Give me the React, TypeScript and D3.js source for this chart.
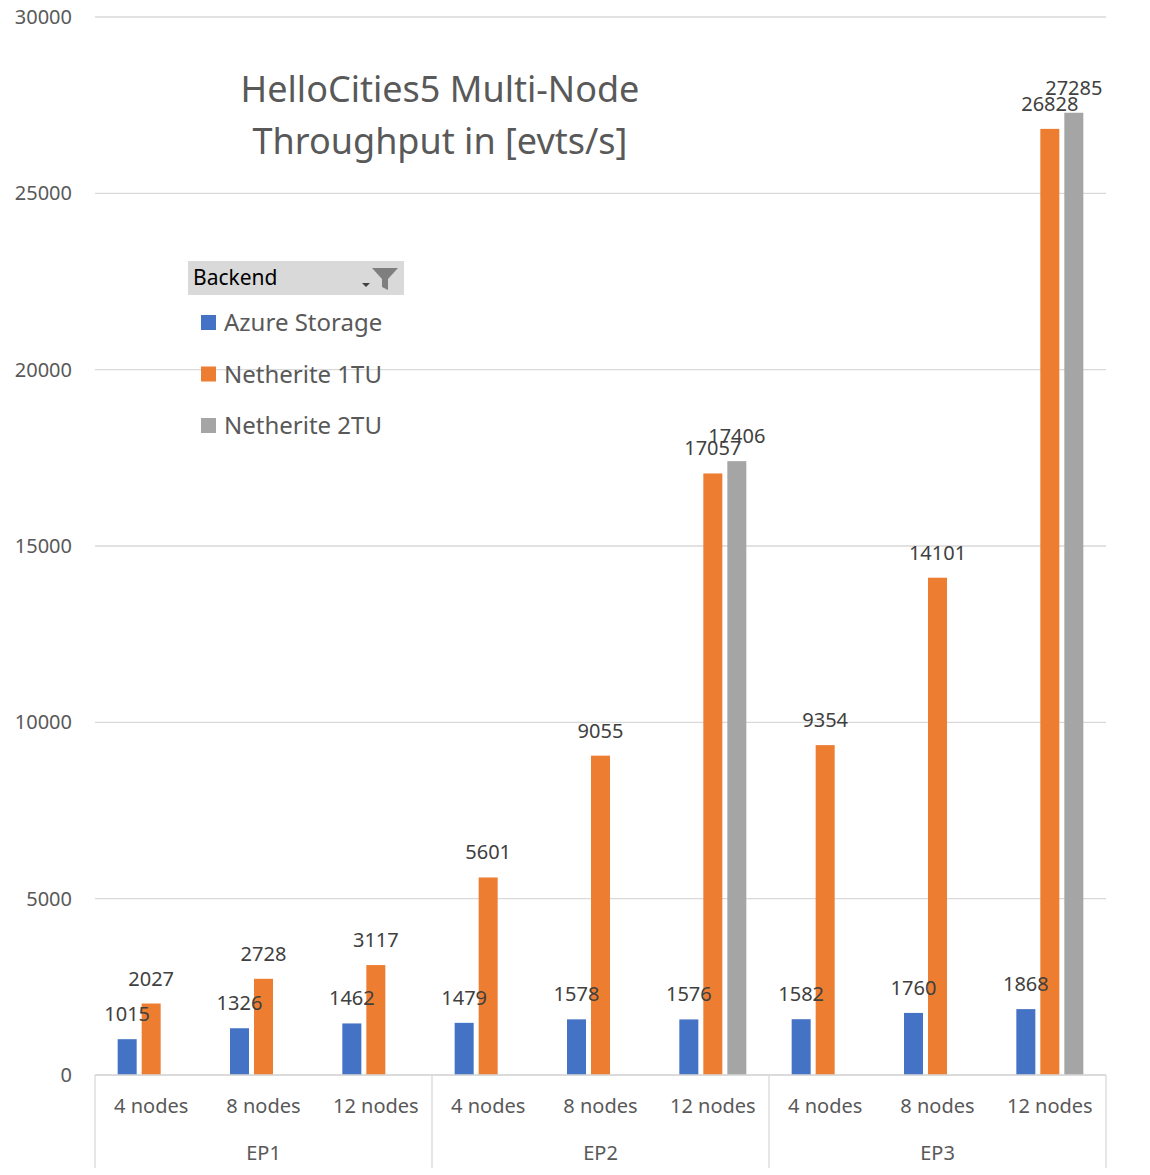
import { useEffect, useRef } from 'react';
import * as d3 from 'd3';

const groups = ['EP1', 'EP2', 'EP3'];
const nodes = ['4 nodes', '8 nodes', '12 nodes'];
const azure = [1015, 1326, 1462, 1479, 1578, 1576, 1582, 1760, 1868];
const netherite1 = [2027, 2728, 3117, 5601, 9055, 17057, 9354, 14101, 26828];
const netherite2 = [null, null, null, null, null, 17406, null, null, 27285];
const yTicks = [0, 5000, 10000, 15000, 20000, 25000, 30000];
const seriesNames = ['Azure Storage', 'Netherite 1TU', 'Netherite 2TU'];
const colors = ['#4472C4', '#ED7D31', '#A5A5A5'];

const FONT = '"Noto Sans", "Open Sans", sans-serif';

const App = () => {
  const svgRef = useRef<SVGSVGElement | null>(null);

  useEffect(() => {
    const svg = d3.select(svgRef.current);
    svg.selectAll('*').remove();
    const left = 95, right = 1106, top = 17, bottom = 1075;

    const cats = groups.flatMap(g => nodes.map(n => `${g}|${n}`));
    const x = d3.scaleBand().domain(cats).range([left, right]);
    const y = d3.scaleLinear().domain([0, 30000]).range([bottom, top]);

    // grid
    svg.append('g').selectAll('line').data(yTicks).enter().append('line')
      .attr('x1', left).attr('x2', right)
      .attr('y1', d => y(d)).attr('y2', d => y(d))
      .attr('stroke', '#d9d9d9').attr('stroke-width', 1.3);
    svg.append('g').selectAll('text').data(yTicks).enter().append('text')
      .attr('x', 72).attr('y', d => y(d) + 7).attr('text-anchor', 'end')
      .attr('font-size', 20).attr('fill', '#595959').attr('font-family', FONT)
      .text(d => d);

    // bars, then labels on top
    const series = [azure, netherite1, netherite2];
    const bw = 19;
    const barLayer = svg.append('g');
    const labelLayer = svg.append('g');
    series.forEach((vals, si) => {
      const items = cats.map((c, i) => ({ c, v: vals[i] })).filter(d => d.v != null) as { c: string; v: number }[];
      const cx = (c: string) => x(c)! + x.bandwidth() / 2 + (si - 1) * 24;
      barLayer.append('g').selectAll('rect').data(items).enter().append('rect')
        .attr('x', d => cx(d.c) - bw / 2).attr('width', bw)
        .attr('y', d => y(d.v)).attr('height', d => bottom - y(d.v))
        .attr('fill', colors[si]);
      labelLayer.append('g').selectAll('text').data(items).enter().append('text')
        .attr('x', d => cx(d.c)).attr('y', d => y(d.v) - 18)
        .attr('text-anchor', 'middle').attr('font-size', 20)
        .attr('fill', '#404040').attr('font-family', FONT)
        .text(d => d.v);
    });

    // axis
    svg.append('line').attr('x1', left).attr('x2', right).attr('y1', bottom).attr('y2', bottom)
      .attr('stroke', '#d9d9d9').attr('stroke-width', 1.3);
    const gw = (right - left) / 3;
    d3.range(4).forEach(i => {
      svg.append('line').attr('x1', left + i * gw).attr('x2', left + i * gw)
        .attr('y1', bottom).attr('y2', 1168).attr('stroke', '#d9d9d9').attr('stroke-width', 1.3);
    });
    svg.append('g').selectAll('text').data(cats).enter().append('text')
      .attr('x', d => x(d)! + x.bandwidth() / 2).attr('y', 1113)
      .attr('text-anchor', 'middle').attr('font-size', 20).attr('fill', '#595959')
      .attr('font-family', FONT).text(d => d.split('|')[1]);
    svg.append('g').selectAll('text').data(groups).enter().append('text')
      .attr('x', (_, i) => left + gw * (i + 0.5)).attr('y', 1160)
      .attr('text-anchor', 'middle').attr('font-size', 20).attr('fill', '#595959')
      .attr('font-family', FONT).text(d => d);

    // title
    const title = svg.append('text').attr('text-anchor', 'middle').attr('font-size', 36)
      .attr('fill', '#595959').attr('font-family', FONT);
    title.append('tspan').attr('x', 440).attr('y', 102).text('HelloCities5 Multi-Node');
    title.append('tspan').attr('x', 440).attr('y', 154).text('Throughput in [evts/s]');

    // legend
    const lg = svg.append('g');
    lg.append('rect').attr('x', 188).attr('y', 261).attr('width', 216).attr('height', 34).attr('fill', '#d9d9d9');
    lg.append('text').attr('x', 193).attr('y', 285).attr('font-size', 21).attr('fill', '#000')
      .attr('font-family', FONT).text('Backend');
    lg.append('path').attr('d', 'M372,268 L398,268 L388,279 L388,290 L382,287 L382,279 Z').attr('fill', '#7f7f7f');
    lg.append('path').attr('d', 'M362,283 L370,283 L366,287 Z').attr('fill', '#404040');
    seriesNames.forEach((n, i) => {
      lg.append('rect').attr('x', 201).attr('y', 315 + i * 51.5).attr('width', 15).attr('height', 15).attr('fill', colors[i]);
      lg.append('text').attr('x', 224).attr('y', 331 + i * 51.5).attr('font-size', 24)
        .attr('fill', '#595959').attr('font-family', FONT).text(n);
    });
  }, []);

  return <svg ref={svgRef} width={1150} height={1175}
    style={{ position: 'absolute', left: 0, top: 0, background: '#fff' }} />;
};

export default App;
